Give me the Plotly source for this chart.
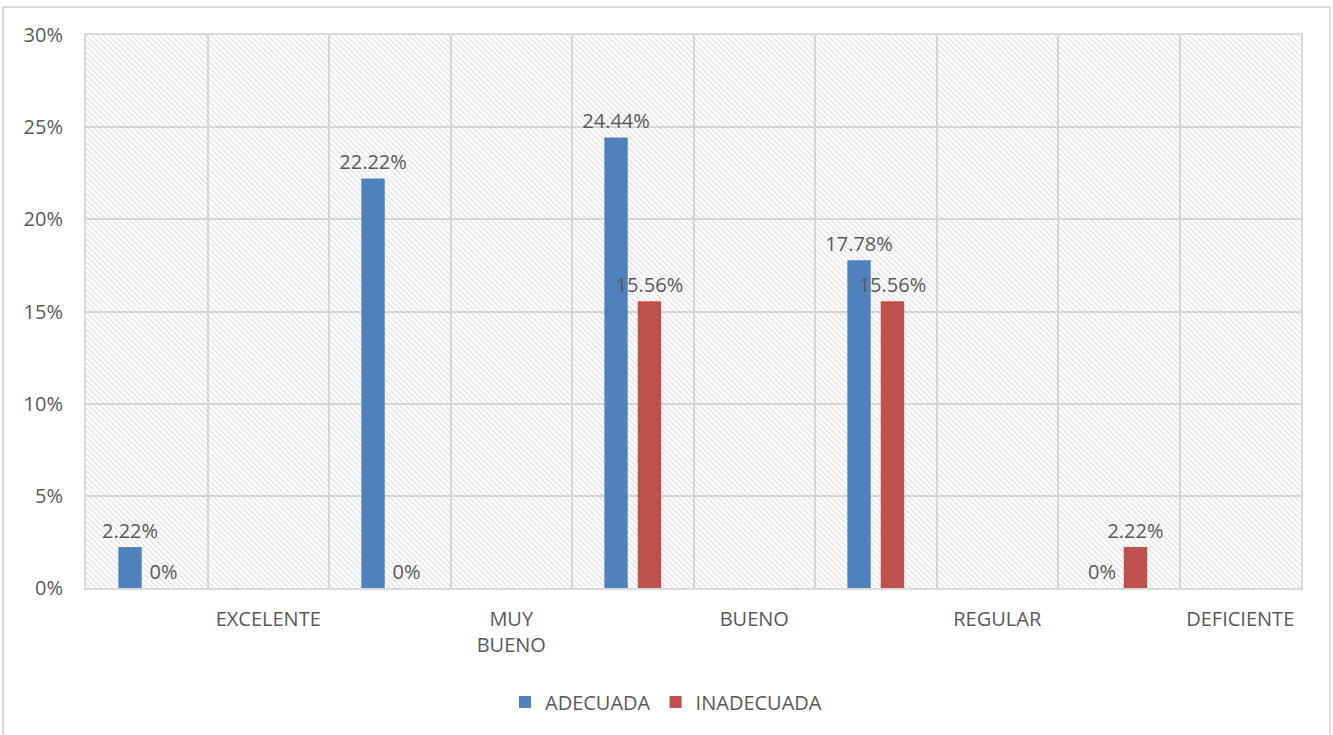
import plotly.graph_objects as go

categories = ["", "EXCELENTE", "", "MUY<br>BUENO", "", "BUENO", "", "REGULAR", "", "DEFICIENTE"]
adecuada = [2.22, None, 22.22, None, 24.44, None, 17.78, None, 0, None]
inadecuada = [0, None, 0, None, 15.56, None, 15.56, None, 2.22, None]
y_ticks = [0, 5, 10, 15, 20, 25, 30]
y_ticktext = [f"{v}%" for v in y_ticks]

BLUE = "#4F81BD"
RED = "#C0504D"
TXT = "#595959"
GRID = "#D9D9D9"
FONT = "Open Sans"

n = len(categories)
xs = list(range(n))
ymax = y_ticks[-1]


def labels(vals):
    return ["" if v is None else f"{v:g}%" for v in vals]


fig = go.Figure()

# hatched plot-area background
fig.add_trace(go.Bar(
    x=[-0.5], y=[ymax], width=[n], offset=0,
    marker=dict(color="#C4C4C4", line=dict(width=0),
                pattern=dict(shape="\\", size=4, solidity=0.35,
                             fgcolor="#C4C4C4", bgcolor="rgba(0,0,0,0)")),
    showlegend=False, hoverinfo="skip",
))

for name, vals, col in [("ADECUADA", adecuada, BLUE), ("INADECUADA", inadecuada, RED)]:
    fig.add_trace(go.Bar(
        x=xs, y=vals, name=name,
        marker=dict(color=col, line=dict(width=0)),
        text=labels(vals), textposition="outside", textangle=0,
        constraintext="none", cliponaxis=False,
        textfont=dict(family=FONT, size=20, color=TXT),
    ))

W, H = 1333, 735
L, R, T, B = 86, 32, 35, 147
pw, ph = W - L - R, H - T - B

fig.update_layout(
    width=W, height=H,
    margin=dict(l=L, r=R, t=T, b=B),
    paper_bgcolor="white", plot_bgcolor="white",
    barmode="group", bargap=0.45, bargroupgap=0.3,
    font=dict(family=FONT, size=20, color=TXT),
    legend=dict(orientation="h", xref="container", yref="container",
                x=666 / W, xanchor="center", y=1 - 702 / H, yanchor="middle",
                font=dict(family=FONT, size=20, color=TXT), itemwidth=30),
    xaxis=dict(
        range=[-0.5, n - 0.5], tickmode="array", tickvals=xs, ticktext=categories,
        showgrid=False, zeroline=False, ticks="", ticklabelstandoff=12,
        showline=True, linecolor=GRID, linewidth=2, mirror=True,
        minor=dict(tickmode="array", tickvals=[i - 0.5 for i in range(n + 1)],
                   showgrid=True, gridcolor=GRID, gridwidth=2, ticks=""),
        tickfont=dict(family=FONT, size=20, color=TXT),
    ),
    yaxis=dict(
        range=[0, ymax], tickmode="array", tickvals=y_ticks, ticktext=y_ticktext,
        showgrid=True, gridcolor=GRID, gridwidth=2, zeroline=False, ticks="",
        showline=True, linecolor=GRID, linewidth=2, mirror=True,
        ticklabelstandoff=17,
        tickfont=dict(family=FONT, size=20, color=TXT),
    ),
    shapes=[dict(type="rect", xref="paper", yref="paper",
                 x0=(3 - L) / pw, x1=(1330 - L) / pw,
                 y0=(H - B - 750) / ph, y1=(H - B - 7) / ph,
                 line=dict(color=GRID, width=2), fillcolor="rgba(0,0,0,0)",
                 layer="below")],
)

fig.write_html("out.html", config={"displayModeBar": False},
               post_script="document.body.style.margin='0';document.body.style.overflow='hidden';")
